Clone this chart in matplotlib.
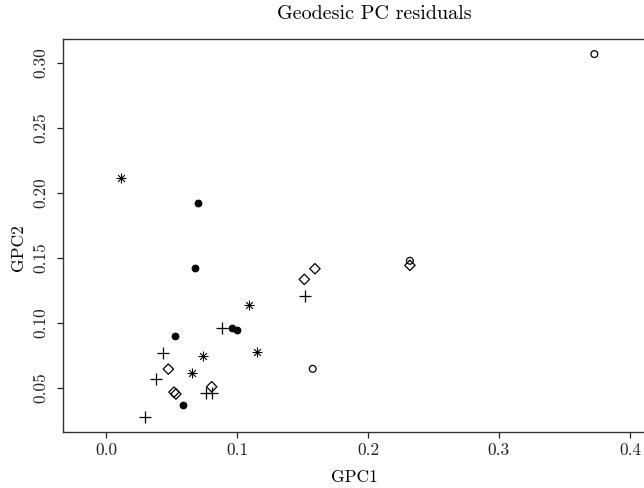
import matplotlib
matplotlib.use("Agg")
import matplotlib.pyplot as plt

plt.rcParams['font.family'] = ['cmr10', 'DejaVu Serif']
plt.rcParams['axes.formatter.use_mathtext'] = True

# Data per group (GPC1, GPC2)
star_x = [0.0115, 0.109, 0.074, 0.0656, 0.1153]
star_y = [0.2115, 0.1138, 0.0746, 0.0615, 0.0777]

dot_x = [0.0702, 0.0677, 0.0527, 0.0964, 0.1002, 0.0590]
dot_y = [0.1920, 0.1423, 0.0902, 0.0962, 0.0944, 0.0372]

plus_x = [0.0883, 0.0437, 0.0382, 0.0300, 0.0761, 0.0809, 0.1517]
plus_y = [0.0964, 0.0767, 0.0569, 0.0279, 0.0464, 0.0464, 0.1210]

diam_x = [0.0476, 0.0519, 0.0534, 0.0807, 0.1595, 0.1514, 0.2320]
diam_y = [0.0646, 0.0469, 0.0454, 0.0510, 0.1418, 0.1336, 0.1444]

circ_x = [0.1578, 0.3728, 0.2320]
circ_y = [0.0648, 0.3069, 0.1479]

xticks = [0.0, 0.1, 0.2, 0.3, 0.4]
xticklabels = ["0.0", "0.1", "0.2", "0.3", "0.4"]
yticks = [0.05, 0.10, 0.15, 0.20, 0.25, 0.30]
yticklabels = ["0.05", "0.10", "0.15", "0.20", "0.25", "0.30"]

fig = plt.figure(figsize=(6.44, 4.88), dpi=100)
ax = fig.add_axes([63/644, 56/488, (685-63)/644, (432-39)/488])

k = 'black'
ax.scatter(star_x, star_y, marker='+', s=44, c=k, linewidths=0.8)
ax.scatter(star_x, star_y, marker='x', s=24, c=k, linewidths=0.8)
ax.scatter(dot_x, dot_y, marker='o', s=26, c=k, edgecolors=k, linewidths=0.5)
ax.scatter(plus_x, plus_y, marker='+', s=65, c=k, linewidths=0.9)
ax.scatter(diam_x, diam_y, marker='D', s=28, facecolors='none', edgecolors=k, linewidths=0.9)
ax.scatter(circ_x, circ_y, marker='o', s=24, facecolors='none', edgecolors=k, linewidths=0.9)

ax.set_xlim(-0.0328, 0.442)
ax.set_ylim(0.0162, 0.3185)

ax.set_xticks(xticks)
ax.set_xticklabels(xticklabels)
ax.set_yticks(yticks)
ax.set_yticklabels(yticklabels, rotation=90, va='center')

ax.tick_params(direction='out', length=4.5, width=0.9, labelsize=12.5, colors='#222222')
ax.tick_params(axis='x', pad=3)
ax.tick_params(axis='y', pad=6)
for sp in ax.spines.values():
    sp.set_linewidth(1.0)
    sp.set_color('#333333')

ax.set_xlabel("GPC1", fontsize=12.5, va='center')
ax.set_ylabel("GPC2", fontsize=12.5, va='center')
ax.xaxis.set_label_coords((354 - 63) / 622, (432 - 477) / 393)
ax.yaxis.set_label_coords((18 - 63) / 622, (432 - 248) / 393)
fig.text(374/644, 1 - 14/488, "Geodesic PC residuals", ha='center', va='center', fontsize=14.5)

fig.savefig("out.png", dpi=100)
